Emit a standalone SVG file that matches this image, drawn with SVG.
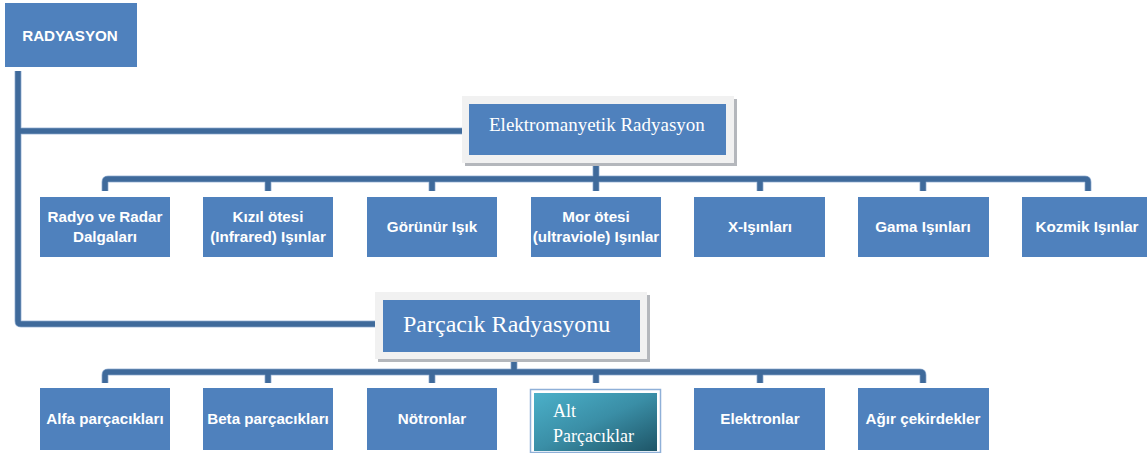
<svg xmlns="http://www.w3.org/2000/svg" width="1147" height="453" viewBox="0 0 1147 453">
<style>
.box{fill:#4F81BD;}
.lbl{font-family:"Liberation Sans",Arial,sans-serif;font-weight:bold;font-size:15.2px;fill:#FFFFFF;text-anchor:middle;}
.ser{font-family:"Liberation Serif","Times New Roman",serif;fill:#FFFFFF;}
.con{fill:none;stroke:#3F6A9B;stroke-width:5.5;stroke-linejoin:round;stroke-linecap:butt;}
.conhi{fill:none;stroke:#A9C0DE;stroke-width:7;stroke-linejoin:round;stroke-linecap:butt;}
.frame{fill:#F1F1F1;}
.shadow{fill:#B4B7BC;}
</style>
<defs>
<linearGradient id="teal" x1="0" y1="0" x2="1" y2="1">
<stop offset="0" stop-color="#4BB0C9"/>
<stop offset="0.5" stop-color="#3A8EA6"/>
<stop offset="1" stop-color="#1E5567"/>
</linearGradient>
<clipPath id="clipMor"><rect x="531" y="197" width="130" height="60"/></clipPath>
</defs>
<rect width="1147" height="453" fill="#FFFFFF"/>

<g id="connectors">
<path class="conhi" d="M18 71 V321 Q18 324 21 324 H378 M18 131 H463 M596 163 V179 M105 191 V182 Q105 179 108 179 H1085 Q1088 179 1088 182 V191 M268 179 V191 M432 179 V191 M596 179 V191 M760 179 V191 M923 179 V191 M514 360 V372 M105 383 V375 Q105 372 108 372 H920 Q923 372 923 375 V383 M268 372 V383 M432 372 V383 M596 372 V383 M760 372 V383"/>
<path class="con" d="M18 71 V321 Q18 324 21 324 H378 M18 131 H463 M596 163 V179 M105 191 V182 Q105 179 108 179 H1085 Q1088 179 1088 182 V191 M268 179 V191 M432 179 V191 M596 179 V191 M760 179 V191 M923 179 V191 M514 360 V372 M105 383 V375 Q105 372 108 372 H920 Q923 372 923 375 V383 M268 372 V383 M432 372 V383 M596 372 V383 M760 372 V383"/>
</g>

<g id="radyasyon">
<rect class="box" x="5" y="3" width="132" height="64"/>
<text class="lbl" x="70" y="41">RADYASYON</text>
</g>

<g id="elektromanyetik">
<rect class="shadow" x="465" y="99" width="272" height="67"/>
<rect class="frame" x="462" y="96" width="272" height="67"/>
<rect class="box" x="469" y="104" width="257" height="51"/>
<text class="ser" x="489" y="131" font-size="19">Elektromanyetik Radyasyon</text>
</g>

<g id="radyo">
<rect class="box" x="40" y="197" width="130" height="60"/>
<text class="lbl" x="105" y="222">Radyo ve Radar</text>
<text class="lbl" x="105" y="242">Dalgaları</text>
</g>
<g id="kizilotesi">
<rect class="box" x="203" y="197" width="130" height="60"/>
<text class="lbl" x="268" y="222">Kızıl ötesi</text>
<text class="lbl" x="268" y="242">(Infrared) Işınlar</text>
</g>
<g id="gorunur">
<rect class="box" x="367" y="197" width="130" height="60"/>
<text class="lbl" x="432" y="232">Görünür Işık</text>
</g>
<g id="morotesi">
<rect class="box" x="531" y="197" width="130" height="60"/>
<g clip-path="url(#clipMor)">
<text class="lbl" x="596" y="222">Mor ötesi</text>
<text class="lbl" x="596" y="242">(ultraviole) Işınlar</text>
</g>
</g>
<g id="xisinlari">
<rect class="box" x="694" y="197" width="131" height="60"/>
<text class="lbl" x="760" y="232">X-Işınları</text>
</g>
<g id="gama">
<rect class="box" x="858" y="197" width="131" height="60"/>
<text class="lbl" x="923" y="232">Gama Işınları</text>
</g>
<g id="kozmik">
<rect class="box" x="1022" y="197" width="131" height="60"/>
<text class="lbl" x="1087" y="232">Kozmik Işınlar</text>
</g>

<g id="parcacik">
<rect class="shadow" x="378" y="295" width="272" height="67"/>
<rect class="frame" x="375" y="292" width="272" height="67"/>
<rect class="box" x="383" y="300" width="257" height="52"/>
<text class="ser" x="403" y="332" font-size="24">Parçacık Radyasyonu</text>
</g>

<g id="alfa">
<rect class="box" x="40" y="388" width="130" height="62"/>
<text class="lbl" x="105" y="424">Alfa parçacıkları</text>
</g>
<g id="beta">
<rect class="box" x="203" y="388" width="130" height="62"/>
<text class="lbl" x="268" y="424">Beta parçacıkları</text>
</g>
<g id="notronlar">
<rect class="box" x="367" y="388" width="130" height="62"/>
<text class="lbl" x="432" y="424">Nötronlar</text>
</g>
<g id="altparcaciklar">
<rect x="530.5" y="389.5" width="130" height="63" fill="#FFFFFF" stroke="#8FB0D8" stroke-width="1.5"/>
<rect x="534" y="393" width="123" height="58" fill="url(#teal)"/>
<text class="ser" x="553" y="417" font-size="18">Alt</text>
<text class="ser" x="553" y="442" font-size="18">Parçacıklar</text>
</g>
<g id="elektronlar">
<rect class="box" x="694" y="388" width="131" height="62"/>
<text class="lbl" x="760" y="424">Elektronlar</text>
</g>
<g id="agir">
<rect class="box" x="858" y="388" width="131" height="62"/>
<text class="lbl" x="923" y="424">Ağır çekirdekler</text>
</g>
</svg>
